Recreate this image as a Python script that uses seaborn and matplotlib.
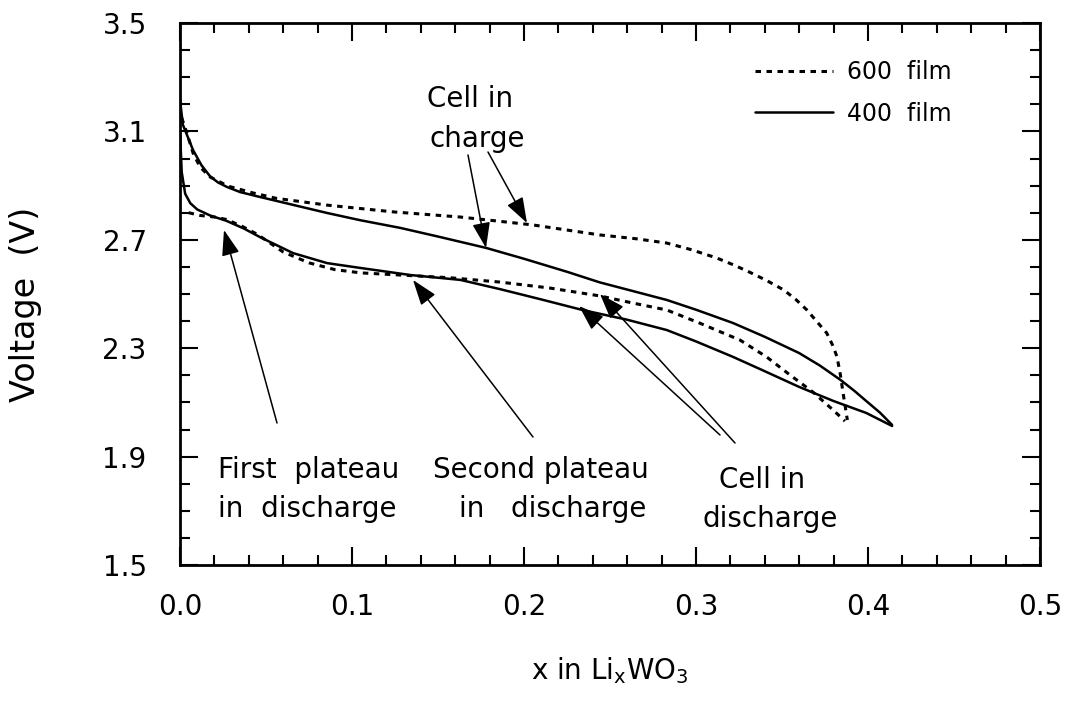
import numpy as np
import pandas as pd
import matplotlib
matplotlib.use("Agg")
import matplotlib.pyplot as plt
import seaborn as sns
from matplotlib.ticker import MultipleLocator, FormatStrFormatter

# ---------------- data ----------------
charge400_x = [0.0, 0.0017, 0.0076, 0.0125, 0.0174, 0.022, 0.0273, 0.035, 0.0465,
               0.065, 0.0855, 0.105, 0.128, 0.150, 0.178, 0.200, 0.225, 0.244,
               0.265, 0.283, 0.300, 0.3215, 0.340, 0.360, 0.372, 0.384, 0.392,
               0.399, 0.407, 0.414]
charge400_v = [3.216, 3.124, 3.031, 2.975, 2.935, 2.912, 2.895, 2.876, 2.858,
               2.830, 2.799, 2.772, 2.744, 2.712, 2.670, 2.630, 2.582, 2.543,
               2.508, 2.478, 2.442, 2.393, 2.342, 2.282, 2.236, 2.183, 2.143,
               2.105, 2.062, 2.017]

discharge400_x = [0.0, 0.001, 0.003, 0.006, 0.010, 0.0174, 0.027, 0.037, 0.0465,
                  0.0657, 0.0855, 0.105, 0.134, 0.163, 0.186, 0.210, 0.234, 0.260,
                  0.283, 0.300, 0.3215, 0.340, 0.360, 0.380, 0.399, 0.414]
discharge400_v = [3.10, 2.95, 2.87, 2.835, 2.812, 2.79, 2.77, 2.742, 2.71,
                  2.651, 2.614, 2.596, 2.570, 2.552, 2.518, 2.480, 2.441, 2.405,
                  2.367, 2.325, 2.268, 2.215, 2.157, 2.105, 2.061, 2.013]

charge600_x = [0.001, 0.004, 0.0076, 0.0116, 0.0174, 0.028, 0.0424, 0.056, 0.0855,
               0.124, 0.163, 0.205, 0.244, 0.265, 0.283, 0.297, 0.312, 0.322,
               0.331, 0.341, 0.351, 0.358, 0.3645, 0.370, 0.376, 0.3795, 0.382,
               0.384, 0.3855, 0.388]
charge600_v = [3.15, 3.094, 3.02, 2.969, 2.932, 2.898, 2.873, 2.853, 2.828,
               2.803, 2.784, 2.755, 2.718, 2.704, 2.688, 2.664, 2.633, 2.607,
               2.581, 2.550, 2.515, 2.480, 2.441, 2.400, 2.356, 2.310, 2.268,
               2.200, 2.135, 2.035]

discharge600_x = [0.005, 0.0116, 0.020, 0.027, 0.036, 0.045, 0.060, 0.075, 0.090,
                  0.105, 0.128, 0.157, 0.186, 0.215, 0.244, 0.263, 0.283, 0.302,
                  0.3256, 0.341, 0.3547, 0.368, 0.3797, 0.3866]
discharge600_v = [2.80, 2.79, 2.784, 2.775, 2.75, 2.72, 2.655, 2.615, 2.59,
                  2.578, 2.57, 2.56, 2.544, 2.522, 2.493, 2.467, 2.441, 2.393,
                  2.330, 2.268, 2.201, 2.138, 2.072, 2.031]

legend_labels = ["600  film", "400  film"]
x_ticks = [0.0, 0.1, 0.2, 0.3, 0.4, 0.5]
y_ticks = [1.5, 1.9, 2.3, 2.7, 3.1, 3.5]

# ---------------- style ----------------
sns.set_theme(style="ticks")
plt.rcParams["font.family"] = ["DejaVu Sans"]
plt.rcParams["mathtext.fontset"] = "dejavusans"
for k in ["text.color", "axes.labelcolor", "xtick.color", "ytick.color",
          "xtick.labelcolor", "ytick.labelcolor"]:
    plt.rcParams[k] = "black"

fig = plt.figure(figsize=(10.68, 7.02), dpi=100)
fig.patch.set_facecolor("white")
ax = fig.add_axes([180 / 1068, 1 - 565 / 702, 860 / 1068, 542 / 702])
ax.set_facecolor("white")

dotted = (0, (1.8, 1.8))
lw_solid = 1.8
lw_dot = 2.2

df = pd.DataFrame
sns.lineplot(data=df({"x": charge600_x, "v": charge600_v}), x="x", y="v", sort=False,
             estimator=None, color="black", lw=lw_dot, linestyle=dotted,
             label=legend_labels[0], ax=ax)
sns.lineplot(data=df({"x": charge400_x, "v": charge400_v}), x="x", y="v", sort=False,
             estimator=None, color="black", lw=lw_solid, label=legend_labels[1], ax=ax)
sns.lineplot(data=df({"x": discharge600_x, "v": discharge600_v}), x="x", y="v", sort=False,
             estimator=None, color="black", lw=lw_dot, linestyle=dotted, ax=ax)
sns.lineplot(data=df({"x": discharge400_x, "v": discharge400_v}), x="x", y="v", sort=False,
             estimator=None, color="black", lw=lw_solid, ax=ax)

# ---------------- axes ----------------
ax.set_xlim(0.0, 0.5)
ax.set_ylim(1.5, 3.5)
ax.set_xticks(x_ticks)
ax.set_yticks(y_ticks)
ax.xaxis.set_minor_locator(MultipleLocator(0.02))
ax.yaxis.set_minor_locator(MultipleLocator(0.1))
ax.xaxis.set_major_formatter(FormatStrFormatter("%.1f"))
ax.yaxis.set_major_formatter(FormatStrFormatter("%.1f"))
ax.tick_params(which="both", direction="in", top=True, right=True, color="black",
               labelcolor="black", width=1.5)
ax.tick_params(which="major", length=13)
ax.tick_params(which="minor", length=7)
ax.tick_params(axis="x", which="major", pad=20, labelsize=20)
ax.tick_params(axis="y", which="major", pad=24, labelsize=20)
for s in ax.spines.values():
    s.set_linewidth(2.0)
    s.set_color("black")

ax.set_xlabel(r"x in Li$_\mathregular{x}$WO$_\mathregular{3}$", fontsize=20, color="black")
ax.xaxis.set_label_coords(0.5, (565 - 655) / 542)
ax.xaxis.label.set_va("top")
ax.set_ylabel("Voltage  (V)", fontsize=24, color="black")
ax.yaxis.set_label_coords((42 - 180) / 860, (565 - 304) / 542)

# ---------------- legend ----------------
leg = ax.legend(loc="upper left", bbox_to_anchor=((755 - 180) / 860, (565 - 60) / 542),
                frameon=False, fontsize=17, handlelength=3.3, handletextpad=0.6,
                labelspacing=0.75, borderpad=0, borderaxespad=0)
for t in leg.get_texts():
    t.set_color("black")

# ---------------- annotations ----------------
def px2d(px, py):
    return ((px - 180) / 1720, 3.5 - (py - 23) / 271)

tfs = 20
texts = [
    ("Cell in", 470, 107), ("charge", 477, 147),
    ("First  plateau", 309, 478), ("in  discharge", 307, 517),
    ("Second plateau", 541, 478), ("in   discharge", 553, 517),
    ("Cell in", 762, 488), ("discharge", 770, 527),
]
for s, px, py in texts:
    x, y = px2d(px, py)
    ax.text(x, y, s, ha="center", va="baseline", fontsize=tfs, color="black")

arrows = [
    ((468, 155), (486, 248)),
    ((488, 152), (527, 223)),
    ((277, 423), (224, 230)),
    ((533, 437), (413, 280)),
    ((720, 435), (579, 306)),
    ((735, 443), (600, 294)),
]
for tail, head in arrows:
    ax.annotate("", xy=px2d(*head), xytext=px2d(*tail),
                arrowprops=dict(arrowstyle="-|>,head_length=0.63,head_width=0.22",
                                lw=1.1, color="black", shrinkA=0, shrinkB=0,
                                mutation_scale=25))

fig.savefig("out.png", dpi=100, facecolor="white")
